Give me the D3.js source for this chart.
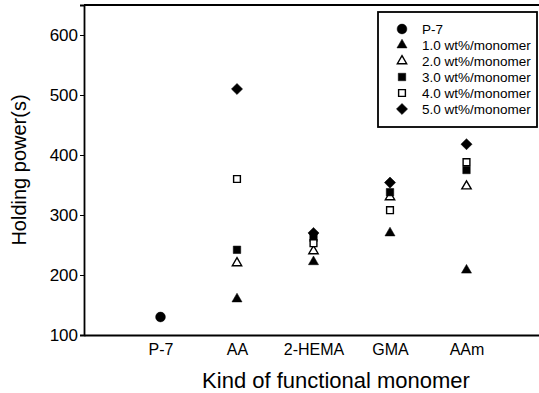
<!DOCTYPE html>
<html>
<head>
<meta charset="utf-8">
<script src="https://cdn.jsdelivr.net/npm/d3@7"></script>
<style>
  body { margin: 0; background: #fff; }
  text { font-family: "Liberation Sans", Arial, sans-serif; fill: #000; }
</style>
</head>
<body>
<svg id="chart" width="539" height="393"></svg>
<script>
// categories on the x axis
const monomers = ["P-7", "AA", "2-HEMA", "GMA", "AAm"];
const yTicks = [100, 200, 300, 400, 500, 600];

// holding power (s)
const p7 = [130];
const wt1 = [160, 222, 270, 208];
const wt2 = [220, 240, 330, 348];
const wt3 = [242, 262, 338, 375];
const wt4 = [360, 253, 308, 388];
const wt5 = [510, 270, 354, 418];

const seriesNames = ["P-7", "1.0 wt%/monomer", "2.0 wt%/monomer", "3.0 wt%/monomer", "4.0 wt%/monomer", "5.0 wt%/monomer"];

const svg = d3.select("#chart");
const margin = {left: 84, top: 5, bottom: 58};
const height = 393 - margin.top - margin.bottom;

const x = d3.scaleLinear().domain([0, 6]).range([margin.left, margin.left + 6 * 76.5]);
const y = d3.scaleLinear().domain([100, 650]).range([margin.top + height, margin.top]);

// diamond drawn as a rotated square (the d3 one is too narrow)
const squareDiamond = {
  draw: function(ctx, size) {
    const r = Math.sqrt(size / 2);
    ctx.moveTo(0, -r); ctx.lineTo(r, 0); ctx.lineTo(0, r); ctx.lineTo(-r, 0); ctx.closePath();
  }
};

// marker definitions: symbol type + filled?
const markers = [
  {type: d3.symbolCircle, fill: true, size: 75},
  {type: d3.symbolTriangle, fill: true, size: 44},
  {type: d3.symbolTriangle, fill: false, size: 38},
  {type: d3.symbolSquare, fill: true, size: 56},
  {type: d3.symbolSquare, fill: false, size: 46},
  {type: squareDiamond, fill: true, size: 62}
];

// build points
let points = [{s: 0, i: 1, v: p7[0]}];
[wt1, wt2, wt3, wt4, wt5].forEach(function(arr, k) {
  arr.forEach(function(v, j) { points.push({s: k + 1, i: j + 2, v: v}); });
});

// frame
svg.append("line")
  .attr("x1", margin.left).attr("x2", 539)
  .attr("y1", margin.top).attr("y2", margin.top)
  .attr("stroke", "#000").attr("stroke-width", 2.2);

const yAxis = svg.append("g")
  .attr("transform", "translate(" + margin.left + ",0)")
  .call(d3.axisLeft(y).tickValues(yTicks).tickSize(4).tickPadding(2));
yAxis.select(".domain").attr("stroke-width", 1.8);
yAxis.selectAll("text").style("font-size", "17px");

const xAxis = svg.append("g")
  .attr("transform", "translate(0," + (margin.top + height) + ")")
  .call(d3.axisBottom(x).tickValues([1, 2, 3, 4, 5]).tickSize(0).tickPadding(9)
    .tickFormat(function(d) { return monomers[d - 1]; }));
xAxis.select(".domain").attr("stroke-width", 1.8);
xAxis.selectAll("text").style("font-size", "16px");

svg.append("text")
  .attr("x", 336).attr("y", 388)
  .style("text-anchor", "middle").style("font-size", "22px")
  .text("Kind of functional monomer");

svg.append("text")
  .attr("transform", "translate(26," + (margin.top + height / 2) + ") rotate(-90)")
  .style("text-anchor", "middle").style("font-size", "20px")
  .text("Holding power(s)");

function drawMarker(g, m) {
  g.append("path")
    .attr("d", d3.symbol().type(m.type).size(m.size)())
    .attr("fill", m.fill ? "#000" : "#fff")
    .attr("stroke", "#000")
    .attr("stroke-width", m.fill ? 0.5 : 1.4);
}

// draw in series order so higher concentrations sit on top
points.forEach(function(p) {
  const g = svg.append("g")
    .attr("transform", "translate(" + x(p.i) + "," + y(p.v) + ")");
  drawMarker(g, markers[p.s]);
});

// legend
const legend = svg.append("g");
legend.append("rect")
  .attr("x", 378).attr("y", 12).attr("width", 159).attr("height", 115)
  .attr("fill", "#fff").attr("stroke", "#000").attr("stroke-width", 1.8);
seriesNames.forEach(function(name, k) {
  const row = legend.append("g").attr("transform", "translate(0," + (29 + k * 16) + ")");
  const g = row.append("g").attr("transform", "translate(402,0)");
  drawMarker(g, markers[k]);
  row.append("text").attr("x", 422).attr("y", 5)
    .style("font-size", "13.5px").text(name);
});
</script>
</body>
</html>
